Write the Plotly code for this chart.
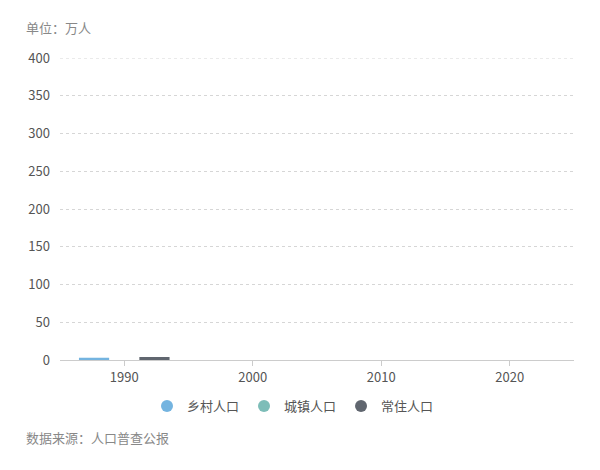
import plotly.graph_objects as go

years = [1990]
rural = [3]
urban = [0]
resident = [4]
series_names = ["乡村人口", "城镇人口", "常住人口"]
colors = ["#74b4e0", "#7dbdb8", "#60666f"]
tick_years = [1990, 2000, 2010, 2020]
y_ticks = [0, 50, 100, 150, 200, 250, 300, 350, 400]

FONT = "Noto Sans CJK SC, Microsoft YaHei, sans-serif"
bar_w = 2.35
offsets = [-1.5 * bar_w, -0.5 * bar_w, 0.5 * bar_w]

fig = go.Figure()
for name, vals, col, off in zip(series_names, [rural, urban, resident], colors, offsets):
    fig.add_trace(go.Bar(x=years, y=vals, name=name, marker_color=col,
                         marker_line_width=0, width=bar_w, offset=off,
                         showlegend=False, legendgroup=name))
for name, col in zip(series_names, colors):
    fig.add_trace(go.Scatter(x=[None], y=[None], mode="markers", name=name,
                             legendgroup=name,
                             marker=dict(symbol="circle", size=12, color=col)))

L, T = 52, 50
PW = 514
PH = 302
GRID = "#d6d6d6"
fig.update_layout(
    width=600, height=470,
    barmode="overlay",
    paper_bgcolor="white", plot_bgcolor="white",
    margin=dict(l=L, r=600 - L - PW, t=T, b=470 - T - PH),
    font=dict(family=FONT, size=13, color="#555"),
    showlegend=True,
    legend=dict(orientation="h", x=(293 - 8 - L) / PW, xanchor="center",
                y=-(406 - 360) / PH, yanchor="middle",
                font=dict(size=13, color="#555"), itemwidth=30,
                traceorder="normal"),
    xaxis=dict(range=[1985, 2025], tickvals=tick_years, showgrid=False,
               showline=True, linecolor="#ccc", linewidth=1,
               ticks="outside", ticklen=5, tickcolor="#ccc",
               tickfont=dict(size=13, color="#555"), zeroline=False, fixedrange=True),
    yaxis=dict(range=[0, max(y_ticks)], tickvals=y_ticks, showgrid=True, gridcolor=GRID,
               griddash="3px,3px", gridwidth=1, zeroline=False, showline=False,
               ticks="", ticklabelstandoff=9,
               tickfont=dict(size=13, color="#555"), fixedrange=True),
    shapes=[dict(type="line", xref="paper", yref="y", x0=0, x1=1,
                 y0=max(y_ticks), y1=max(y_ticks), layer="below",
                 line=dict(color=GRID, width=1, dash="3px,3px"))],
    annotations=[
        dict(text="单位：万人", xref="paper", yref="paper", x=(16 - L) / PW, y=(360 - 27) / PH,
             xanchor="left", yanchor="middle", showarrow=False,
             font=dict(size=13, color="#888")),
        dict(text="数据来源：人口普查公报", xref="paper", yref="paper", x=(16 - L) / PW, y=(360 - 437) / PH,
             xanchor="left", yanchor="middle", showarrow=False,
             font=dict(size=13, color="#888")),
    ],
)

fig.write_html("out.html")
